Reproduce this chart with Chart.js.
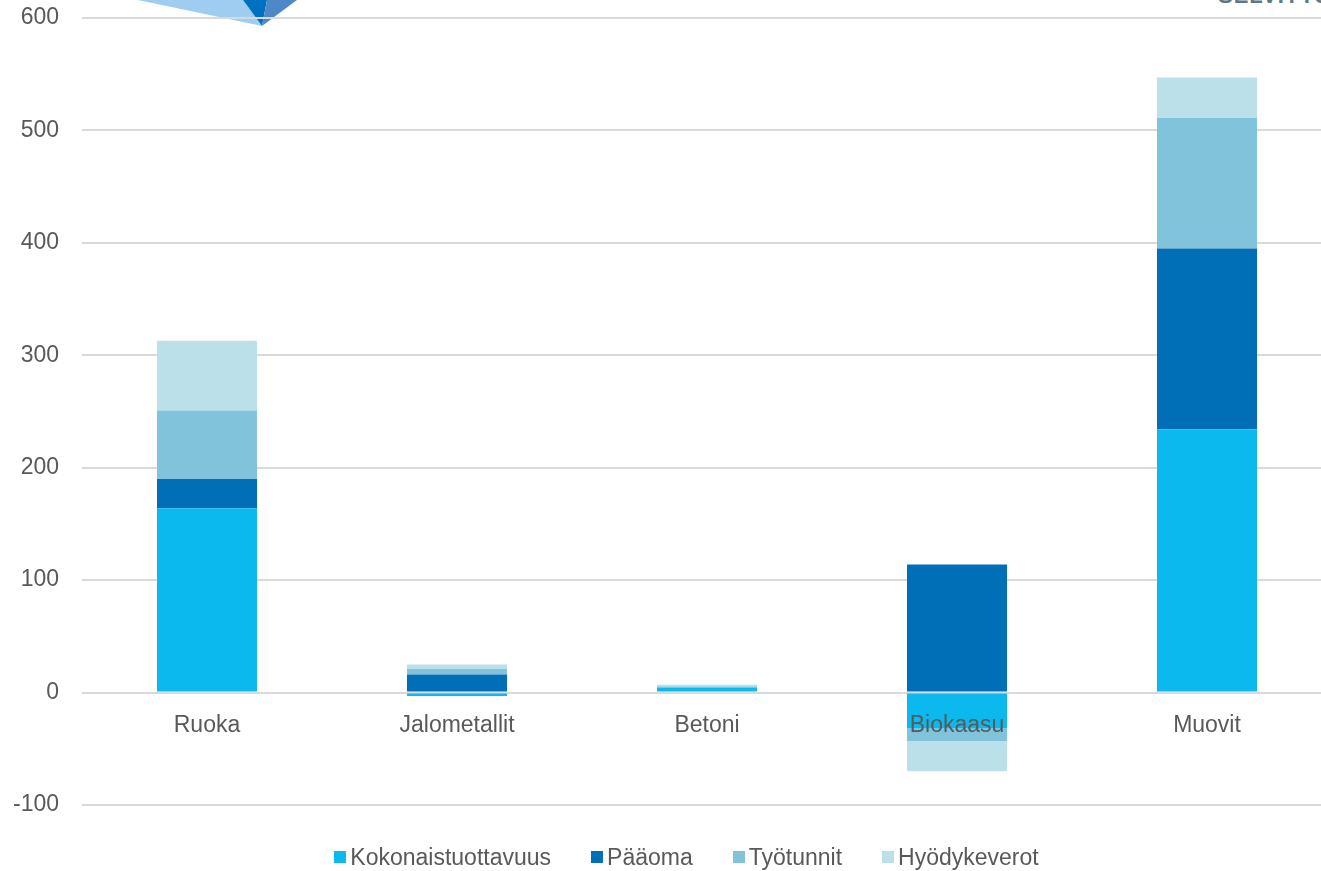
<!DOCTYPE html>
<html>
<head>
<meta charset="utf-8">
<script src="https://cdn.jsdelivr.net/npm/chart.js@4"></script>
<style>
  html, body { margin: 0; padding: 0; background: #fff; overflow: hidden; }
  body { width: 1321px; height: 871px; position: relative; font-family: "Liberation Sans", Arial, sans-serif; }
  #chartWrap { position: absolute; left: 0; top: 0; width: 1332px; height: 871px; }
  #logo { position: absolute; left: 0; top: 0; }
  #brand { position: absolute; left: 1218px; top: -15px; font-size: 22px; line-height: 22px; font-weight: bold; color: #5f7884; white-space: nowrap; letter-spacing: 1px; }
  #legend { position: absolute; left: 0; width: 1373px; top: 843px; display: flex; justify-content: center; gap: 40px; font-size: 23px; color: #595959; line-height: 28px; }
  #legend .item { display: flex; align-items: center; white-space: nowrap; }
  #legend .box { width: 12px; height: 12px; margin-right: 4px; }
</style>
</head>
<body>
<svg id="logo" width="320" height="30">
  <polygon points="138,0 243,0 262,26" fill="#9fcdf1"/>
  <polygon points="243,0 267,0 262,26" fill="#0070c0"/>
  <polygon points="267,0 297,0 262,26" fill="#4f88c6"/>
</svg>
<div id="brand">SELVITYS</div>
<div id="chartWrap"><canvas id="myChart"></canvas></div>
<div id="legend"></div>
<script>
// categories and series (index points)
const categories = ['Ruoka', 'Jalometallit', 'Betoni', 'Biokaasu', 'Muovit'];
const kokonaistuottavuus = [164, -3, 4, -32, 234];
const paaoma = [26, 16, 0, 114, 161];
const tyotunnit = [61, 5, 1.5, -11, 116];
const hyodykeverot = [62, 4, 1.5, -27, 36];
const yTicks = [-100, 0, 100, 200, 300, 400, 500, 600];

const seriesNames = ['Kokonaistuottavuus', 'Pääoma', 'Työtunnit', 'Hyödykeverot'];
const seriesColors = ['#0cb9ee', '#006fb8', '#80c3da', '#bbe0ea'];
const seriesData = [kokonaistuottavuus, paaoma, tyotunnit, hyodykeverot];

const textColor = '#595959';
const font = { family: '"Liberation Sans", Arial, sans-serif', size: 23 };

const datasets = seriesNames.map((name, i) => ({
    label: name,
    data: seriesData[i],
    backgroundColor: seriesColors[i],
    borderWidth: 0,
    barPercentage: 0.4,
    categoryPercentage: 1
}));

const ctx = document.getElementById('myChart').getContext('2d');
new Chart(ctx, {
    type: 'bar',
    data: { labels: categories, datasets: datasets },
    options: {
        responsive: true,
        maintainAspectRatio: false,
        animation: false,
        layout: { padding: { top: 18, bottom: 66, left: 0, right: 0 } },
        plugins: {
            legend: { display: false },
            tooltip: { enabled: false }
        },
        scales: {
            x: {
                stacked: true,
                position: { y: 0 },
                grid: { display: false },
                border: { display: false },
                // labels sit on top of the bars (Biokaasu goes below zero)
                ticks: { color: textColor, font: font, padding: 11, maxRotation: 0, z: 1 }
            },
            y: {
                stacked: true,
                min: yTicks[0],
                max: yTicks[yTicks.length - 1],
                afterFit: function (scale) {
                    scale.width = 82;
                    scale.paddingTop = 0;
                    scale.paddingBottom = 0;
                },
                afterBuildTicks: function (scale) { scale.ticks = yTicks.map(v => ({ value: v })); },
                grid: { color: '#d9d9d9', lineWidth: 2, drawTicks: false },
                border: { display: false },
                ticks: { color: textColor, font: font, padding: 23 }
            }
        }
    }
});

// legend built from the same series
const legend = document.getElementById('legend');
seriesNames.forEach((name, i) => {
    const item = document.createElement('div');
    item.className = 'item';
    const box = document.createElement('span');
    box.className = 'box';
    box.style.background = seriesColors[i];
    item.appendChild(box);
    item.appendChild(document.createTextNode(name));
    legend.appendChild(item);
});
</script>
</body>
</html>
